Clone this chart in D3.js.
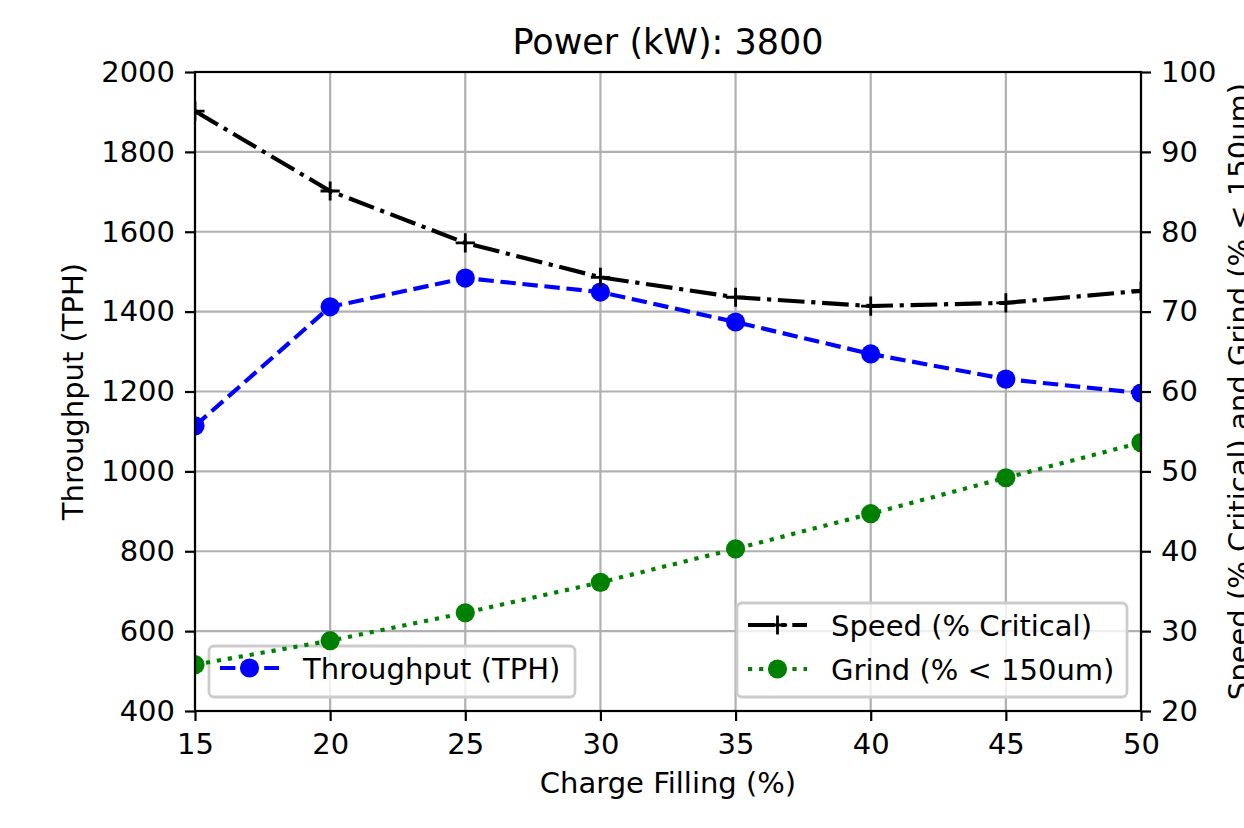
<!DOCTYPE html>
<html>
<head>
<meta charset="utf-8">
<script src="https://cdn.jsdelivr.net/npm/d3@7"></script>
<style>
  body { margin: 0; background: #fff; }
  text { font-family: "DejaVu Sans", sans-serif; }
</style>
</head>
<body>
<div id="chart"></div>
<script>
////////
// Data
let charge = [15, 20, 25, 30, 35, 40, 45, 50];
let throughput = [1114, 1412, 1484, 1449, 1374, 1294, 1231, 1196];
let speed = [95.1, 85.1, 78.6, 74.3, 71.8, 70.7, 71.1, 72.6];
let grind = [25.8, 28.8, 32.3, 36.1, 40.3, 44.7, 49.2, 53.6];

let xTicks = [15, 20, 25, 30, 35, 40, 45, 50];
let leftTicks = [400, 600, 800, 1000, 1200, 1400, 1600, 1800, 2000];
let rightTicks = [20, 30, 40, 50, 60, 70, 80, 90, 100];

////////
// Canvas
let svg_width = 1244;
let svg_height = 828;
let pLeft = 195, pRight = 1141, pTop = 72, pBottom = 711;
let fs = 29;

let svg = d3.select("#chart")
  .append("svg")
  .attr("width", svg_width)
  .attr("height", svg_height);

svg.append("defs").append("clipPath")
  .attr("id", "plotClip")
  .append("rect")
  .attr("x", pLeft).attr("y", pTop)
  .attr("width", pRight - pLeft).attr("height", pBottom - pTop);

////////
// Scales
let xScale = d3.scaleLinear().domain([15, 50]).range([pLeft, pRight]);
let yLeft = d3.scaleLinear().domain([400, 2000]).range([pBottom, pTop]);
let yRight = d3.scaleLinear().domain([20, 100]).range([pBottom, pTop]);

// grid
let grid = svg.append("g");
grid.selectAll(".gx").data(xTicks).enter().append("line")
  .attr("x1", d => xScale(d)).attr("x2", d => xScale(d))
  .attr("y1", pTop).attr("y2", pBottom)
  .attr("stroke", "#b0b0b0").attr("stroke-width", 2.2);
grid.selectAll(".gy").data(leftTicks).enter().append("line")
  .attr("x1", pLeft).attr("x2", pRight)
  .attr("y1", d => yLeft(d)).attr("y2", d => yLeft(d))
  .attr("stroke", "#b0b0b0").attr("stroke-width", 2.2);

let lw = 4.17;
let r = 9.6;

function drawSeries(g, values, yScale, color, dash, marker) {
  let pts = charge.map((c, i) => [xScale(c), yScale(values[i])]);
  let plot = g.append("g").attr("clip-path", "url(#plotClip)");
  plot.append("path")
    .attr("d", d3.line()(pts))
    .attr("fill", "none")
    .attr("stroke", color)
    .attr("stroke-width", lw)
    .attr("stroke-dasharray", dash);
  if (marker === "o") {
    plot.selectAll("circle").data(pts).enter().append("circle")
      .attr("cx", d => d[0]).attr("cy", d => d[1]).attr("r", r)
      .attr("fill", color);
  } else {
    plot.selectAll(".plus").data(pts).enter().append("path")
      .attr("d", d => `M${d[0] - r},${d[1]}H${d[0] + r}M${d[0]},${d[1] - r}V${d[1] + r}`)
      .attr("stroke", color).attr("stroke-width", 2.8).attr("fill", "none");
  }
}

function drawLegend(x, y, w, h, items) {
  let g = svg.append("g");
  g.append("rect")
    .attr("x", x).attr("y", y).attr("width", w).attr("height", h)
    .attr("rx", 5).attr("ry", 5)
    .attr("fill", "white").attr("fill-opacity", 0.8)
    .attr("stroke", "#cccccc").attr("stroke-width", 2.8);
  items.forEach((it, i) => {
    let cy = y + 22 + i * 44;
    let x0 = x + 11, x1 = x + 70, xm = (x0 + x1) / 2;
    g.append("line")
      .attr("x1", x0).attr("x2", x1).attr("y1", cy).attr("y2", cy)
      .attr("stroke", it.color).attr("stroke-width", lw)
      .attr("stroke-dasharray", it.dash);
    if (it.marker === "o") {
      g.append("circle").attr("cx", xm).attr("cy", cy).attr("r", r).attr("fill", it.color);
    } else {
      g.append("path")
        .attr("d", `M${xm - r},${cy}H${xm + r}M${xm},${cy - r}V${cy + r}`)
        .attr("stroke", it.color).attr("stroke-width", 2.8);
    }
    g.append("text")
      .attr("x", x + 94).attr("y", cy + 10.5)
      .attr("font-size", fs)
      .text(it.label);
  });
}

let dashed = "15.4,6.7";
let dashdot = "26.7,6.7,4.2,6.7";
let dotted = "4.2,6.9";

// primary axis series + its legend
drawSeries(svg, throughput, yLeft, "#0000ff", dashed, "o");
drawLegend(209, 646, 366, 51, [
  { label: "Throughput (TPH)", color: "#0000ff", dash: dashed, marker: "o" }
]);

// twin axis series + its legend
drawSeries(svg, speed, yRight, "#000000", dashdot, "+");
drawSeries(svg, grind, yRight, "#008000", dotted, "o");
drawLegend(737, 603, 390, 94, [
  { label: "Speed (% Critical)", color: "#000000", dash: dashdot, marker: "+" },
  { label: "Grind (% < 150um)", color: "#008000", dash: dotted, marker: "o" }
]);

////////
// Axes
let fmt = d3.format("d");
let xAxis = d3.axisBottom(xScale).tickValues(xTicks).tickFormat(fmt).tickSize(10).tickPadding(12);
let leftAxis = d3.axisLeft(yLeft).tickValues(leftTicks).tickFormat(fmt).tickSize(10).tickPadding(10);
let rightAxis = d3.axisRight(yRight).tickValues(rightTicks).tickFormat(fmt).tickSize(10).tickPadding(10);

function styleAxis(g) {
  g.select(".domain").remove();
  g.selectAll(".tick line").attr("stroke", "#000").attr("stroke-width", 2.2);
  g.selectAll(".tick text").attr("font-size", fs).attr("fill", "#000")
    .attr("font-family", "DejaVu Sans, sans-serif");
}

svg.append("g").attr("transform", `translate(0,${pBottom})`).call(xAxis).call(styleAxis);
svg.append("g").attr("transform", `translate(${pLeft},0)`).call(leftAxis).call(styleAxis);
svg.append("g").attr("transform", `translate(${pRight},0)`).call(rightAxis).call(styleAxis);

// frame
svg.append("rect")
  .attr("x", pLeft).attr("y", pTop).attr("width", pRight - pLeft).attr("height", pBottom - pTop)
  .attr("fill", "none").attr("stroke", "#000").attr("stroke-width", 2.2);

////////
// Labels
svg.append("text")
  .attr("x", (pLeft + pRight) / 2).attr("y", 54)
  .attr("text-anchor", "middle").attr("font-size", 35)
  .text("Power (kW): 3800");

svg.append("text")
  .attr("x", (pLeft + pRight) / 2).attr("y", 793)
  .attr("text-anchor", "middle").attr("font-size", fs)
  .text("Charge Filling (%)");

svg.append("text")
  .attr("transform", `translate(83,${(pTop + pBottom) / 2}) rotate(-90)`)
  .attr("text-anchor", "middle").attr("font-size", fs)
  .text("Throughput (TPH)");

svg.append("text")
  .attr("transform", `translate(1249,${(pTop + pBottom) / 2}) rotate(-90)`)
  .attr("text-anchor", "middle").attr("font-size", fs)
  .text("Speed (% Critical) and Grind (% < 150um)");
</script>
</body>
</html>
